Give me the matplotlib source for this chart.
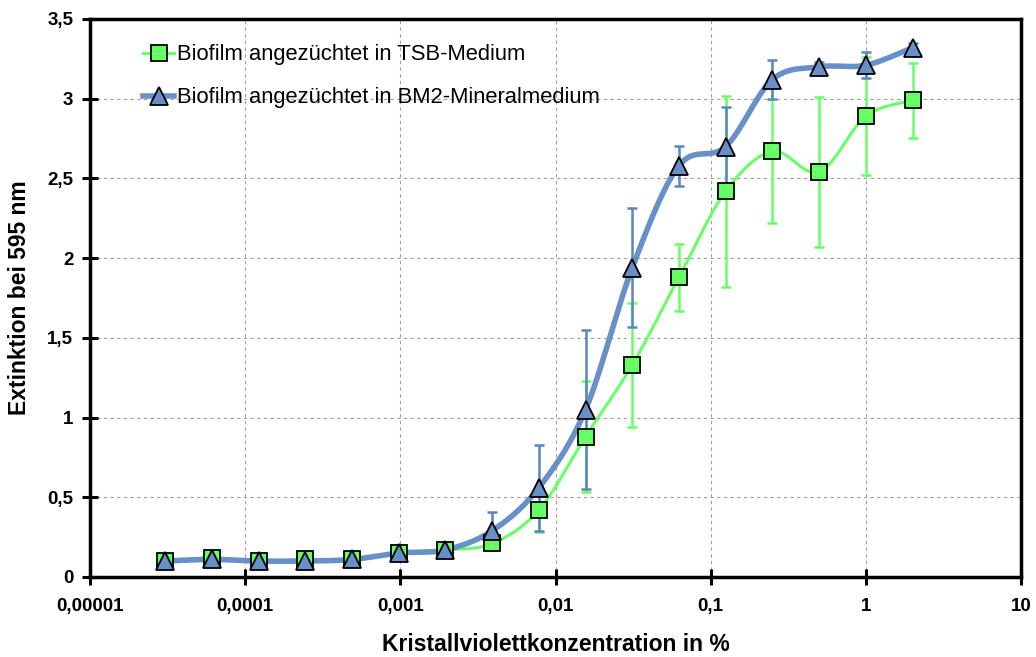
import numpy as np
import matplotlib.pyplot as plt
from matplotlib.lines import Line2D

# concentrations (2-fold dilution series, %)
conc = [2 / 2**i for i in range(17)][::-1]

tsb = [0.10, 0.12, 0.10, 0.11, 0.11, 0.15, 0.17, 0.21, 0.42, 0.88,
       1.33, 1.88, 2.42, 2.67, 2.54, 2.89, 2.99]
tsb_err = [0.01, 0.01, 0.01, 0.01, 0.01, 0.02, 0.02, 0.03, 0.14, 0.35,
           0.39, 0.21, 0.60, 0.45, 0.47, 0.37, 0.235]

bm2 = [0.10, 0.11, 0.10, 0.10, 0.11, 0.15, 0.17, 0.29, 0.56, 1.05,
       1.94, 2.58, 2.70, 3.12, 3.20, 3.21, 3.32]
bm2_err = [0.01, 0.01, 0.01, 0.01, 0.01, 0.02, 0.03, 0.12, 0.27, 0.50,
           0.375, 0.125, 0.25, 0.12, 0.03, 0.08, 0.03]

x_ticks = [1e-5, 1e-4, 1e-3, 1e-2, 1e-1, 1, 10]
x_ticklabels = ['0,00001', '0,0001', '0,001', '0,01', '0,1', '1', '10']
y_ticks = [0, 0.5, 1, 1.5, 2, 2.5, 3, 3.5]
y_ticklabels = ['0', '0,5', '1', '1,5', '2', '2,5', '3', '3,5']

GREEN = '#66FF66'
BLUE = '#6890C8'
BLUE_ERR = '#5A85C0'

plt.rcParams['font.family'] = ['Liberation Sans', 'DejaVu Sans']


def smooth(x, y, n=30):
    # excel-like smoothed line (catmull-rom, tension 1/6) in log-x space
    lx = np.log10(x)
    y = np.asarray(y, float)
    px = np.concatenate([[lx[0]], lx, [lx[-1]]])
    py = np.concatenate([[y[0]], y, [y[-1]]])
    xs, ys = [], []
    t = np.linspace(0, 1, n)
    for i in range(1, len(px) - 2):
        p0 = np.array([px[i], py[i]])
        p3 = np.array([px[i + 1], py[i + 1]])
        p1 = p0 + (np.array([px[i + 1], py[i + 1]]) - np.array([px[i - 1], py[i - 1]])) / 6
        p2 = p3 - (np.array([px[i + 2], py[i + 2]]) - np.array([px[i], py[i]])) / 6
        b = ((1 - t) ** 3)[:, None] * p0 + (3 * (1 - t) ** 2 * t)[:, None] * p1 \
            + (3 * (1 - t) * t ** 2)[:, None] * p2 + (t ** 3)[:, None] * p3
        xs.append(b[:, 0])
        ys.append(b[:, 1])
    return 10 ** np.concatenate(xs), np.concatenate(ys)


fig = plt.figure(figsize=(10.36, 6.57), dpi=100)
ax = fig.add_axes([0.0869, 0.1218, 0.8986, 0.8493])

# error bars
ax.errorbar(conc, tsb, yerr=tsb_err, fmt='none', ecolor=GREEN, elinewidth=1.8,
            capsize=3.5, capthick=1.8, zorder=2)
ax.errorbar(conc, bm2, yerr=bm2_err, fmt='none', ecolor=BLUE_ERR, elinewidth=1.8,
            capsize=3.5, capthick=1.8, zorder=2)

# smoothed lines
sx, sy = smooth(conc, tsb)
ax.plot(sx, sy, color=GREEN, lw=2.2, zorder=3)
sx, sy = smooth(conc, bm2)
ax.plot(sx, sy, color=BLUE, lw=4, zorder=4)

# markers
ax.plot(conc, tsb, ls='none', marker='s', ms=11, mfc=GREEN, mec='black', mew=1.3, zorder=5)
ax.plot(conc, bm2, ls='none', marker='^', ms=13, mfc=BLUE, mec='black', mew=1.3, zorder=6)

ax.set_xscale('log')
ax.set_xlim(1e-5, 10)
ax.set_ylim(0, 3.5)
ax.set_xticks(x_ticks)
ax.set_xticklabels(x_ticklabels)
ax.xaxis.set_minor_locator(plt.NullLocator())
ax.set_yticks(y_ticks)
ax.set_yticklabels(y_ticklabels)

ax.grid(True, ls=(0, (3, 3)), color='#A0A0A0', lw=0.8)
ax.set_axisbelow(True)
for s in ax.spines.values():
    s.set_linewidth(2.5)
ax.tick_params(direction='inout', length=12, width=2.2, labelsize=13.5)
ax.tick_params(axis='x', pad=9)
ax.tick_params(axis='y', pad=6)
for lab in ax.get_xticklabels() + ax.get_yticklabels():
    lab.set_fontweight('bold')

ax.set_xlabel('Kristallviolettkonzentration in %', fontsize=16.5, fontweight='bold', labelpad=13)
ax.set_ylabel('Extinktion bei 595 nm', fontsize=16.5, fontweight='bold', labelpad=12)

handles = [
    Line2D([], [], color=GREEN, lw=2.2, marker='s', ms=11, mfc=GREEN, mec='black', mew=1.3),
    Line2D([], [], color=BLUE, lw=4, marker='^', ms=13, mfc=BLUE, mec='black', mew=1.3),
]
ax.legend(handles, ['Biofilm angezüchtet in TSB-Medium',
                    'Biofilm angezüchtet in BM2-Mineralmedium'],
          loc='upper left', bbox_to_anchor=(0.036, 0.99), frameon=False,
          fontsize=15.8, handlelength=1.4, handletextpad=0.15, labelspacing=1.0)

fig.savefig('out.png', dpi=100)
